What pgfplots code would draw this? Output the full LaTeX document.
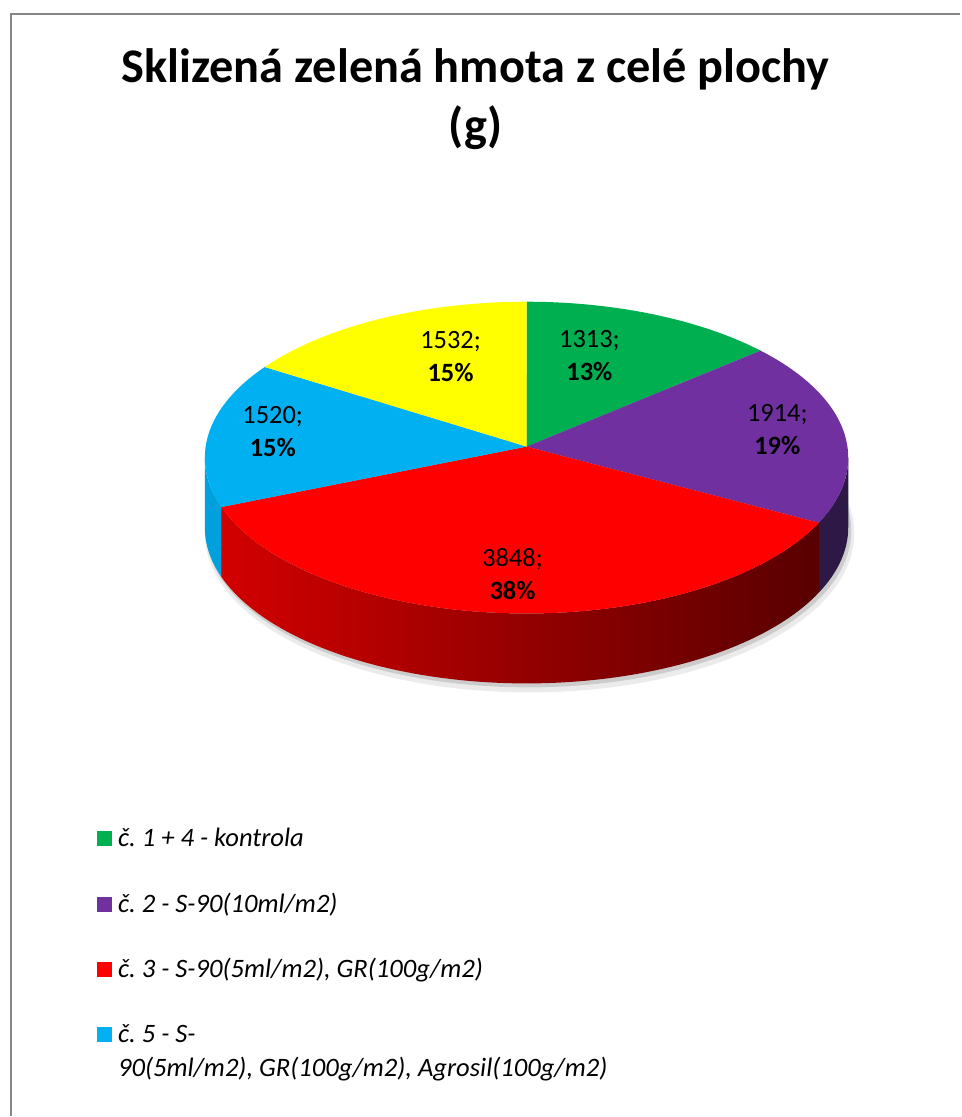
\documentclass[border=0pt]{standalone}
\usepackage{pgfplots}
\usepackage{pgfplotstable}
\pgfplotsset{compat=1.18}
\usepackage{fontspec}
\setmainfont{Carlito}
\frenchspacing
\definecolor{cgreen}{HTML}{00B050}
\definecolor{cpurple}{HTML}{7030A0}
\definecolor{cred}{HTML}{FF0000}
\definecolor{cblue}{HTML}{00B0F0}
\definecolor{cyellow}{HTML}{FFFF00}
\definecolor{cpurpleside}{HTML}{2D1846}
\definecolor{cblueside}{HTML}{00A0DC}
\definecolor{credL}{HTML}{D20000}
\definecolor{credM}{HTML}{960000}
\definecolor{credR}{HTML}{580000}
\definecolor{cborder}{HTML}{868686}

% slice values and label positions (axis units)
\pgfplotstableread{
val lx ly
1313 590 761
1914 778 687
3848 513 542
1520 273 685
1532 451 760
}\piedata

\begin{document}
\begin{tikzpicture}
\foreach \i/\n in {0/A,1/B,2/C,3/D,4/E}{
  \pgfplotstablegetelem{\i}{val}\of\piedata \expandafter\xdef\csname v\n\endcsname{\pgfplotsretval}
  \pgfplotstablegetelem{\i}{lx}\of\piedata \expandafter\xdef\csname x\n\endcsname{\pgfplotsretval}
  \pgfplotstablegetelem{\i}{ly}\of\piedata \expandafter\xdef\csname y\n\endcsname{\pgfplotsretval}
}
\pgfmathsetmacro\tot{\vA+\vB+\vC+\vD+\vE}
\pgfmathsetmacro\aB{90-360*(\vA/\tot)}
\pgfmathsetmacro\aC{90-360*((\vA+\vB)/\tot)}
\pgfmathsetmacro\aD{90-360*((\vA+\vB+\vC)/\tot)}
\pgfmathsetmacro\aE{90-360*((\vA+\vB+\vC+\vD)/\tot)}
\pgfmathtruncatemacro\pA{round(100*(\vA/\tot))}
\pgfmathtruncatemacro\pB{round(100*(\vB/\tot))}
\pgfmathtruncatemacro\pC{round(100*(\vC/\tot))}
\pgfmathtruncatemacro\pD{round(100*(\vD/\tot))}
\pgfmathtruncatemacro\pE{round(100*(\vE/\tot))}
\def\R{322bp and 156bp}
\tikzset{el/.style={x radius=322bp, y radius=156bp}}
\begin{axis}[at={(0,0)}, anchor=south west, width=961bp, height=1117bp, scale only axis,
  xmin=0, xmax=961, ymin=0, ymax=1117, hide axis, clip=false]
\path (axis cs:0,0) rectangle (axis cs:961,1117);
% frame
\draw[cborder, line width=2bp] (axis cs:11,0) -- (axis cs:11,1103) -- (axis cs:961,1103);
% shadow
\fill[black!8] (axis cs:530,583) ellipse [x radius=325bp, y radius=159bp];
\fill[black!20] (axis cs:529,586) ellipse [x radius=323bp, y radius=157bp];
% side walls
\fill[cpurpleside] (axis cs:527,659) ++(\aC:\R) arc[start angle=\aC, end angle=0, el]
   -- ++(0,-70bp) arc[start angle=0, end angle=\aC, el] -- cycle;
\shade[left color=credL, middle color=credM, right color=credR] (axis cs:527,659) ++(\aD:\R)
   arc[start angle=\aD, end angle=\aC, el]
   -- ++(0,-70bp) arc[start angle=\aC, end angle=\aD, el] -- cycle;
\fill[cblueside] (axis cs:527,659) ++(-180:\R) arc[start angle=-180, end angle=\aD, el]
   -- ++(0,-70bp) arc[start angle=\aD, end angle=-180, el] -- cycle;
% top faces (apex slightly above the ellipse centre, as in the perspective view)
\fill[cgreen] (axis cs:527,659) ++(90:\R) arc[start angle=90, end angle=\aB, el] -- (axis cs:527,670) -- cycle;
\fill[cpurple] (axis cs:527,659) ++(\aB:\R) arc[start angle=\aB, end angle=\aC, el] -- (axis cs:527,670) -- cycle;
\fill[cred] (axis cs:527,659) ++(\aC:\R) arc[start angle=\aC, end angle=\aD, el] -- (axis cs:527,670) -- cycle;
\fill[cblue] (axis cs:527,659) ++(\aD:\R) arc[start angle=\aD, end angle=\aE, el] -- (axis cs:527,670) -- cycle;
\fill[cyellow] (axis cs:527,659) ++(\aE:\R) arc[start angle=\aE, end angle=-270, el] -- (axis cs:527,670) -- cycle;
% data labels
\tikzset{dl/.style={align=center, font=\fontsize{26.5}{33}\selectfont, inner sep=0pt}}
\node[dl] at (axis cs:\xA,\yA) {\vA;\\\textbf{\pA\%}};
\node[dl] at (axis cs:\xB,\yB) {\vB;\\\textbf{\pB\%}};
\node[dl] at (axis cs:\xC,\yC) {\vC;\\\textbf{\pC\%}};
\node[dl] at (axis cs:\xD,\yD) {\vD;\\\textbf{\pD\%}};
\node[dl] at (axis cs:\xE,\yE) {\vE;\\\textbf{\pE\%}};
% title
\node[anchor=base, font=\bfseries\fontsize{48.5}{58}\selectfont, inner sep=0pt] at (axis cs:476,1034) {Sklizená zelená hmota z celé plochy};
\node[anchor=base, font=\bfseries\fontsize{48.5}{58}\selectfont, inner sep=0pt] at (axis cs:476,975) {(g)};
% legend
\tikzset{lg/.style={anchor=base west, font=\itshape\fontsize{26.7}{34}\selectfont, inner sep=0pt}}
\fill[cgreen] (axis cs:97,270) rectangle (axis cs:112,285);
\node[lg] at (axis cs:118,270) {č. 1 + 4 - kontrola};
\fill[cpurple] (axis cs:97,204) rectangle (axis cs:112,219);
\node[lg] at (axis cs:118,204) {č. 2 - S-90(10ml/m2)};
\fill[cred] (axis cs:97,139) rectangle (axis cs:112,154);
\node[lg] at (axis cs:118,139) {č. 3 - S-90(5ml/m2), GR(100g/m2)};
\fill[cblue] (axis cs:97,74) rectangle (axis cs:112,89);
\node[lg] at (axis cs:118,74) {č. 5 - S-};
\node[lg] at (axis cs:118,40) {90(5ml/m2), GR(100g/m2), Agrosil(100g/m2)};
\end{axis}
\end{tikzpicture}
\end{document}
